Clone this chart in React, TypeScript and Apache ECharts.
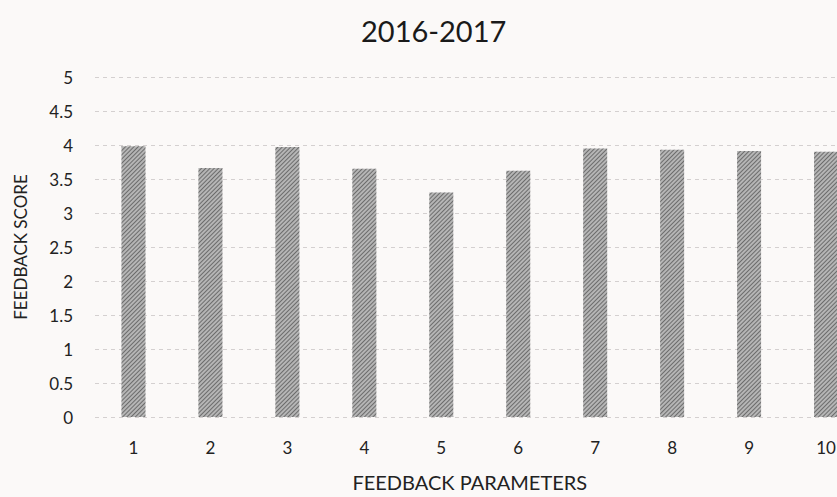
import React, { useEffect, useRef } from "react";
import * as echarts from "echarts";

const categories = ["1", "2", "3", "4", "5", "6", "7", "8", "9", "10"];
const scores = [3.98, 3.66, 3.97, 3.65, 3.3, 3.62, 3.95, 3.93, 3.91, 3.9];
const chartTitle = "2016-2017";
const xName = "FEEDBACK PARAMETERS";
const yName = "FEEDBACK SCORE";

export default function App() {
  const ref = useRef<HTMLDivElement>(null);
  useEffect(() => {
    if (!ref.current) return;
    const chart = echarts.init(ref.current, null, { renderer: "svg" });
    const font = "Lato, 'Open Sans', sans-serif";
    chart.setOption({
      animation: false,
      backgroundColor: "#fbf9f8",
      aria: { enabled: true, decal: { show: true } },
      title: {
        text: chartTitle,
        left: 356,
        top: 11,
        textStyle: { fontFamily: font, fontSize: 29, fontWeight: "normal", color: "#1a1a1a" },
      },
      grid: { left: 95, right: 15.5, top: 77, bottom: 77 },
      xAxis: {
        type: "category",
        data: categories,
        name: xName,
        nameLocation: "middle",
        nameGap: 55,
        nameTextStyle: { fontFamily: font, fontSize: 20, color: "#222", padding: [0, 20, 0, 0] },
        axisLine: { show: false },
        axisTick: { show: false },
        axisLabel: { margin: 22, fontFamily: font, fontSize: 17, color: "#222" },
      },
      yAxis: {
        type: "value",
        min: 0,
        max: 5,
        interval: 0.5,
        name: yName,
        nameLocation: "middle",
        nameGap: 66,
        nameTextStyle: { fontFamily: font, fontSize: 17, color: "#222" },
        axisLine: { show: false },
        axisTick: { show: false },
        axisLabel: { margin: 22, fontFamily: font, fontSize: 17, color: "#222" },
        splitLine: { lineStyle: { color: "#d4d0d0", type: [4, 4], width: 1 } },
      },
      series: [
        {
          type: "bar",
          data: scores,
          barWidth: 24,
          itemStyle: {
            color: "#b5b5b5",
            decal: {
              symbol: "rect",
              symbolSize: 1,
              color: "rgba(60,60,60,0.6)",
              dashArrayX: [1, 0],
              dashArrayY: [1, 2],
              rotation: -Math.PI / 4,
            },
          },
        },
      ],
    });
    return () => chart.dispose();
  }, []);
  return (
    <div style={{ position: "fixed", left: 0, top: 0, width: 837, height: 497, overflow: "hidden" }}>
      <div ref={ref} style={{ width: 880, height: 497 }} />
    </div>
  );
}
